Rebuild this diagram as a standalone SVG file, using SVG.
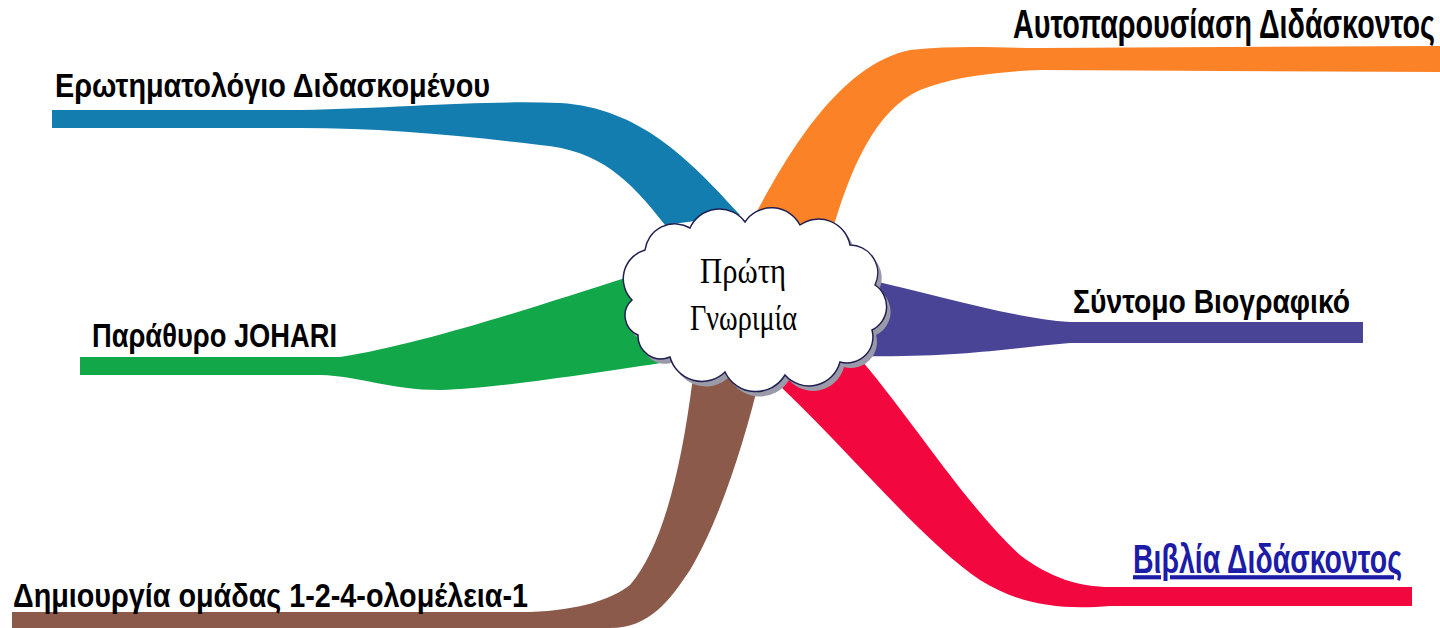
<svg xmlns="http://www.w3.org/2000/svg" width="1440" height="628" viewBox="0 0 1440 628">
<style>
.lbl{font-family:"Liberation Sans",Arial,sans-serif;font-weight:bold;font-size:33px;fill:#000}
.link{fill:#1c1ca8;text-decoration:underline}
.ctr{font-family:"Liberation Serif","Times New Roman",serif;font-size:36px;fill:#000}
</style>
<defs>
<path id="cloudShape" d="M632 300 A30 30 0 0 1 645 250 A30 30 0 0 1 690 228 A32 32 0 0 1 745 222 A32 32 0 0 1 800 225 A32 32 0 0 1 850 245 A28 28 0 0 1 875 285 A26 26 0 0 1 872 330 A26 26 0 0 1 840 362 A32 32 0 0 1 785 375 A34 34 0 0 1 725 372 A33 33 0 0 1 670 357 A23 23 0 0 1 638 335 A21 21 0 0 1 632 300 Z"/>
</defs>
<rect width="1440" height="628" fill="#fff"/>
<g id="connectors">
<path id="b-blue" fill="#137db0" d="M52 110 L300 110 C400 108 480 100 560 103 C640 108 690 160 740 215 L665 225 C630 180 600 150 540 145 C460 135 380 128 300 128 L52 128 Z"/>
<path id="b-orange" fill="#fb8227" d="M755 215 C790 150 840 65 910 50 C960 45 1000 48 1040 48 L1440 46 L1440 72 L1040 70 C990 72 950 78 920 90 C875 110 850 170 832 232 Z"/>
<path id="b-green" fill="#12a84a" d="M80 357 L340 357 C420 345 540 305 625 278 L640 300 L668 362 C600 372 500 388 440 390 C390 390 360 376 320 375 L80 375 Z"/>
<path id="b-purple" fill="#4a4496" d="M860 278 C940 295 1010 318 1070 322 L1363 322 L1363 343 L1070 343 C1010 348 960 358 855 356 Z"/>
<path id="b-red" fill="#f2073f" d="M765 372 L845 342 C900 400 960 500 1020 555 C1050 578 1080 587 1110 587 L1412 587 L1412 606 L1110 606 C1060 610 1020 605 980 580 C920 540 840 440 765 372 Z"/>
<path id="b-brown" fill="#8b5a4b" d="M12 612 L530 612 C580 610 610 600 630 585 C660 550 680 480 693 377 L760 377 C745 440 720 520 690 570 C670 600 650 628 610 628 L12 628 Z"/>
</g>
<g id="node-center">
<use href="#cloudShape" transform="translate(4,5)" fill="#9a9aa8"/>
<use href="#cloudShape" fill="#fff" stroke="#202050" stroke-width="1.5"/>
<text class="ctr" x="700" y="283" textLength="86" lengthAdjust="spacingAndGlyphs">Πρώτη</text>
<text class="ctr" x="690" y="330" textLength="107" lengthAdjust="spacingAndGlyphs">Γνωριμία</text>
</g>
<g id="node-erotimatologio"><text class="lbl" x="55" y="97" textLength="435" lengthAdjust="spacingAndGlyphs">Ερωτηματολόγιο Διδασκομένου</text></g>
<g id="node-autoparousiasi"><text class="lbl" x="0" y="0" font-size="26" transform="translate(1013,38) scale(1,1.22)" textLength="422" lengthAdjust="spacingAndGlyphs">Αυτοπαρουσίαση Διδάσκοντος</text></g>
<g id="node-johari"><text class="lbl" x="92" y="347" textLength="245" lengthAdjust="spacingAndGlyphs">Παράθυρο JOHARI</text></g>
<g id="node-viografiko"><text class="lbl" x="1073" y="313" textLength="277" lengthAdjust="spacingAndGlyphs">Σύντομο Βιογραφικό</text></g>
<g id="node-vivlia"><text class="lbl link" x="0" y="0" font-size="24" transform="translate(1133,573) scale(1,1.25)" textLength="269" lengthAdjust="spacingAndGlyphs">Βιβλία Διδάσκοντος</text></g>
<g id="node-omada"><text class="lbl" x="13" y="607" textLength="515" lengthAdjust="spacingAndGlyphs">Δημιουργία ομάδας 1-2-4-ολομέλεια-1</text></g>
</svg>
